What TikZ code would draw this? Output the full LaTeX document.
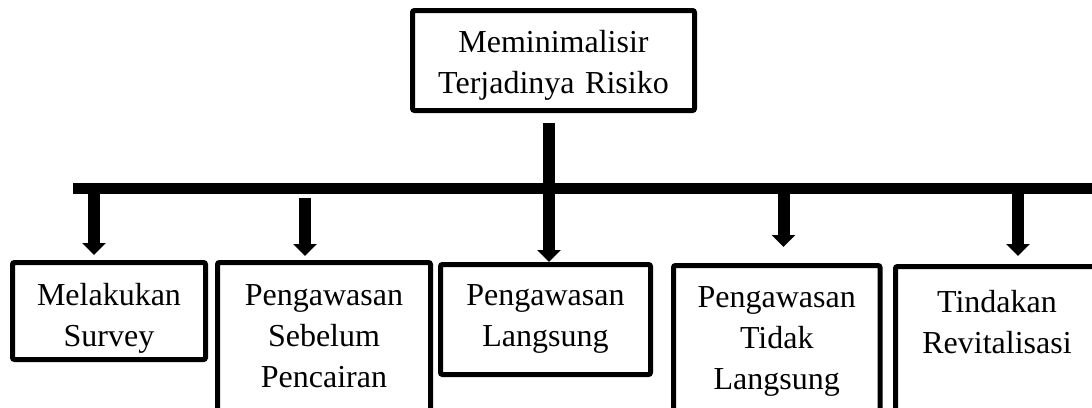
\documentclass[tikz,border=0pt]{standalone}
\usepackage{fontspec}
\setmainfont{Liberation Serif}
\usetikzlibrary{arrows.meta}

\tikzset{
  kotak/.style={draw, line width=5pt, rounded corners=2pt, inner sep=0pt, outer sep=0pt,
    anchor=north west, align=center, font=\fontsize{32}{41}\selectfont},
  panah/.style={line width=12pt, -{Triangle[width=23pt,length=12pt]}},
  garis/.style={line width=11pt},
}

\begin{document}
\begin{tikzpicture}[x=1pt,y=-1pt]
    \useasboundingbox (0,0) rectangle (1092,407);
    \clip (0,0) rectangle (1092,407);

    \node[kotak, text width=282pt, text height=41.5pt, text depth=58.5pt] (risiko) at (412.5,10.5) {Meminimalisir\\Terjadinya Risiko};

    \node[kotak, text width=193pt, text height=42.5pt, text depth=54.5pt] (survey) at (12.5,262.5) {Melakukan\\Survey};
    \node[kotak, text width=213pt, text height=42.5pt, text depth=115pt] (sebelum) at (217.5,262.5) {Pengawasan\\Sebelum\\Pencairan};
    \node[kotak, text width=210pt, text height=40.5pt, text depth=69.5pt] (langsung) at (440.5,264.5) {Pengawasan\\Langsung};
    \node[kotak, text width=206.5pt, text height=41.5pt, text depth=113pt] (tidak) at (673.5,265.5) {Pengawasan\\Tidak\\Langsung};
    \node[kotak, text width=203pt, text height=45.5pt, text depth=108pt] (revitalisasi) at (895.5,266.5) {Tindakan\\Revitalisasi};

    % garis cabang
    \coordinate (batang) at (549,123);
    \coordinate (kiri) at (73,188);
    \coordinate (kanan) at (1100,188);
    \draw[garis] (kiri) -- (kanan);

    \coordinate (c1) at (94,188);
    \coordinate (c2) at (305,198);
    \coordinate (c4) at (783.5,188);
    \coordinate (c5) at (1018,188);

    \draw[panah, shorten >=7.5pt] (c1) -- (c1 |- survey.north);
    \draw[panah, shorten >=6.5pt] (c2) -- (c2 |- sebelum.north);
    \draw[panah, shorten >=2.5pt] (batang) -- (batang |- langsung.north);
    \draw[panah, shorten >=18.5pt] (c4) -- (c4 |- tidak.north);
    \draw[panah, shorten >=10.5pt] (c5) -- (c5 |- revitalisasi.north);

\end{tikzpicture}
\end{document}
